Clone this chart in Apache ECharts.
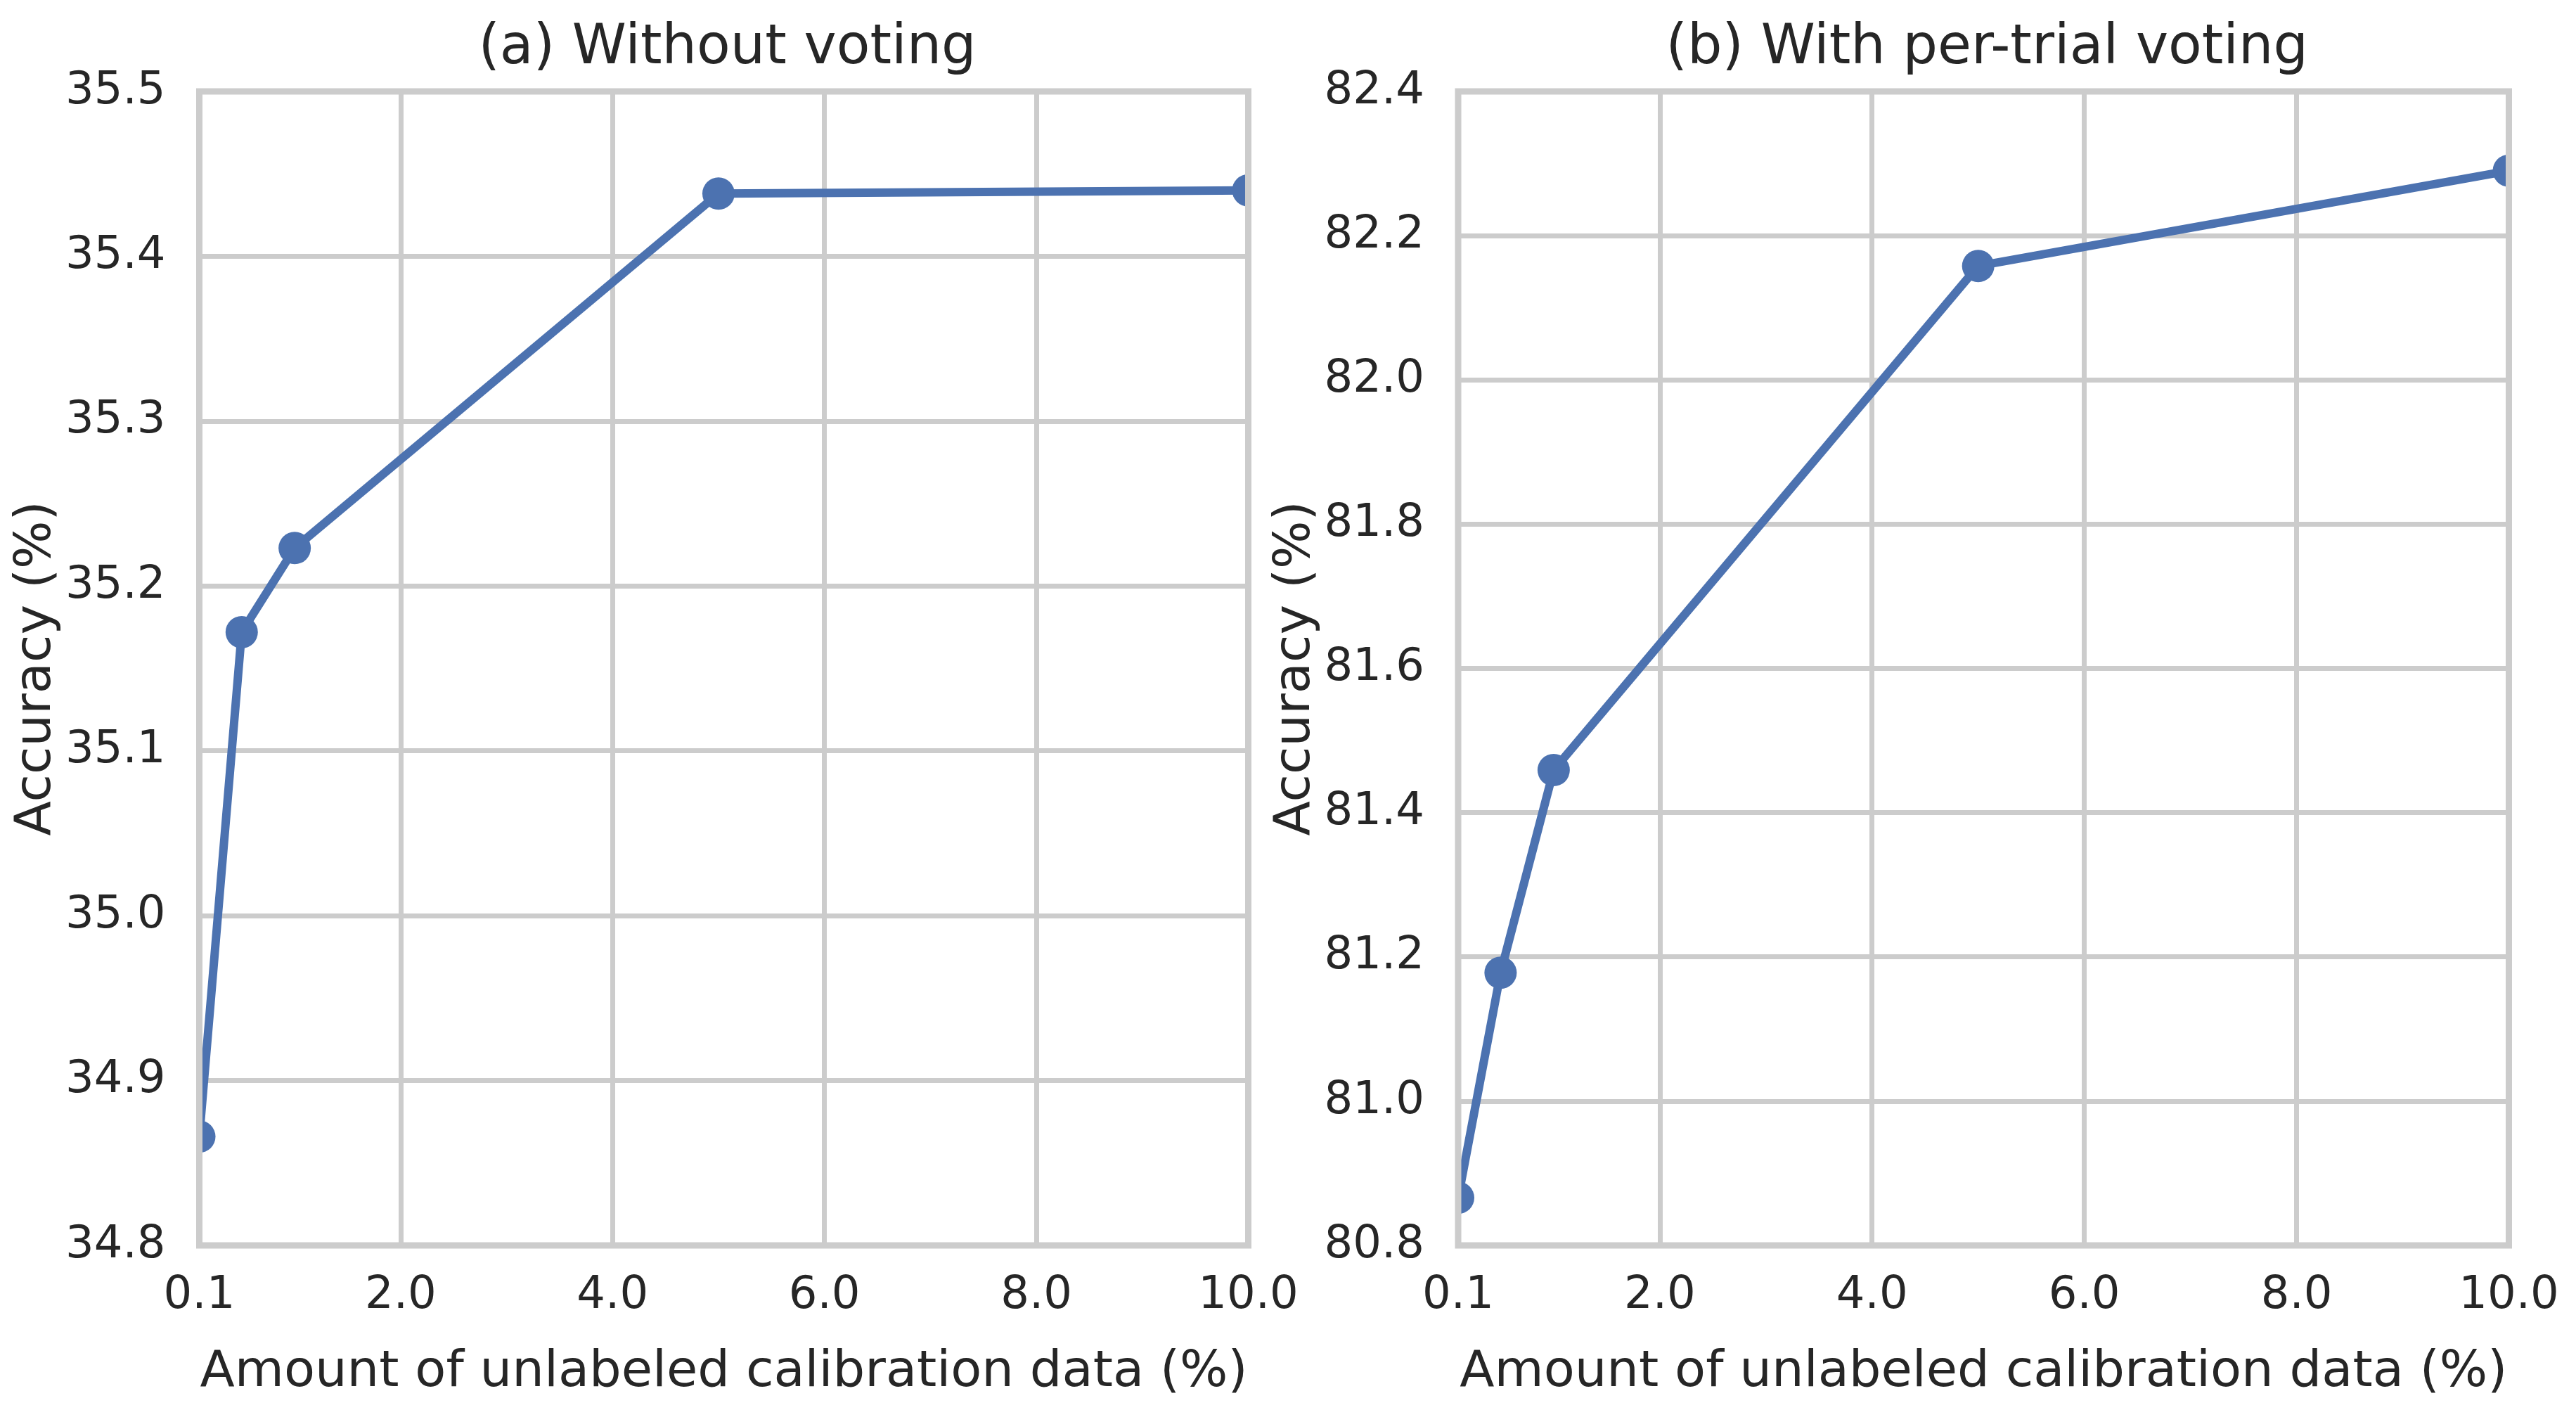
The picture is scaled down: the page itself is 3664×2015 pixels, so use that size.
<!DOCTYPE html>
<html>
<head>
<meta charset="utf-8">
<script src="https://cdn.jsdelivr.net/npm/echarts@6/dist/echarts.min.js"></script>
<style>
  html, body { margin: 0; padding: 0; background: #fff; }
  #chart { width: 3664px; height: 2015px; }
</style>
</head>
<body>
<div id="chart"></div>
<script>
// data
var calibAmount = [0.1, 0.5, 1.0, 5.0, 10.0];
var accNoVoting = [34.866, 35.172, 35.223, 35.438, 35.440];
var accVoting = [80.866, 81.178, 81.459, 82.158, 82.290];
var xTicks = [0.1, 2.0, 4.0, 6.0, 8.0, 10.0];

var titles = ['(a) Without voting', '(b) With per-trial voting'];
var xName = 'Amount of unlabeled calibration data (%)';
var yName = 'Accuracy (%)';

// layout of the two plot boxes
var W = 3664, H = 2015;
var boxes = [
    { left: 283.5, top: 130, width: 1492, height: 1641 },
    { left: 2074, top: 130, width: 1494.5, height: 1641 }
];
var yRanges = [
    { min: 34.8, max: 35.5, interval: 0.1 },
    { min: 80.8, max: 82.4, interval: 0.2 }
];

var textColor = '#262626';
var gridColor = '#cccccc';
var lineColor = '#4c72b0';
var font = 'DejaVu Sans';

function pairs(ys) {
    return calibAmount.map(function (x, i) { return [x, ys[i]]; });
}

var option = {
    backgroundColor: '#ffffff',
    textStyle: { fontFamily: font, color: textColor },
    animation: false,
    title: [],
    grid: [],
    xAxis: [],
    yAxis: [],
    series: [],
    graphic: []
};

[accNoVoting, accVoting].forEach(function (ys, i) {
    var b = boxes[i];
    option.title.push({
        text: titles[i],
        left: b.left + b.width / 2,
        top: 26,
        textAlign: 'center',
        textStyle: { fontFamily: font, fontSize: 78, fontWeight: 'normal', color: textColor }
    });
    option.grid.push({
        left: b.left,
        top: b.top,
        width: b.width,
        height: b.height,
        containLabel: false
    });
    option.xAxis.push({
        type: 'value',
        gridIndex: i,
        min: 0.1,
        max: 10,
        name: xName,
        nameLocation: 'middle',
        nameGap: 145,
        nameTextStyle: { fontFamily: font, fontSize: 72, color: textColor },
        axisLine: { show: false },
        axisTick: { show: false, customValues: xTicks },
        axisLabel: {
            customValues: xTicks,
            margin: 40,
            fontFamily: font,
            fontSize: 64,
            color: textColor,
            formatter: function (v) { return v.toFixed(1); }
        },
        splitLine: { show: true, lineStyle: { color: gridColor, width: 7 } }
    });
    option.yAxis.push({
        type: 'value',
        gridIndex: i,
        min: yRanges[i].min,
        max: yRanges[i].max,
        interval: yRanges[i].interval,
        name: yName,
        nameLocation: 'middle',
        nameGap: 195,
        nameRotate: 90,
        nameTextStyle: { fontFamily: font, fontSize: 72, color: textColor },
        axisLine: { show: false },
        axisTick: { show: false },
        axisLabel: {
            margin: 48,
            fontFamily: font,
            fontSize: 64,
            color: textColor,
            formatter: function (v) { return v.toFixed(1); }
        },
        splitLine: { show: true, lineStyle: { color: gridColor, width: 7 } }
    });
    option.series.push({
        type: 'line',
        xAxisIndex: i,
        yAxisIndex: i,
        data: pairs(ys),
        symbol: 'circle',
        symbolSize: 46,
        showSymbol: true,
        lineStyle: { color: lineColor, width: 12 },
        itemStyle: { color: lineColor },
        z: 2
    });

    // narrow white strips just outside the box so markers on the edge look clipped
    option.graphic.push({
        type: 'rect', z: 100, silent: true,
        shape: { x: b.left - 30, y: b.top - 6, width: 26, height: b.height + 12 },
        style: { fill: '#ffffff' }
    });
    option.graphic.push({
        type: 'rect', z: 100, silent: true,
        shape: { x: b.left + b.width + 4, y: b.top - 6, width: 26, height: b.height + 12 },
        style: { fill: '#ffffff' }
    });
    // frame (spines) drawn over the data
    option.graphic.push({
        type: 'rect', z: 101, silent: true,
        shape: { x: b.left, y: b.top, width: b.width, height: b.height },
        style: { fill: 'none', stroke: gridColor, lineWidth: 9 }
    });
});

var myChart = echarts.init(document.getElementById('chart'), null, { width: W, height: H });
myChart.setOption(option);
</script>
</body>
</html>
